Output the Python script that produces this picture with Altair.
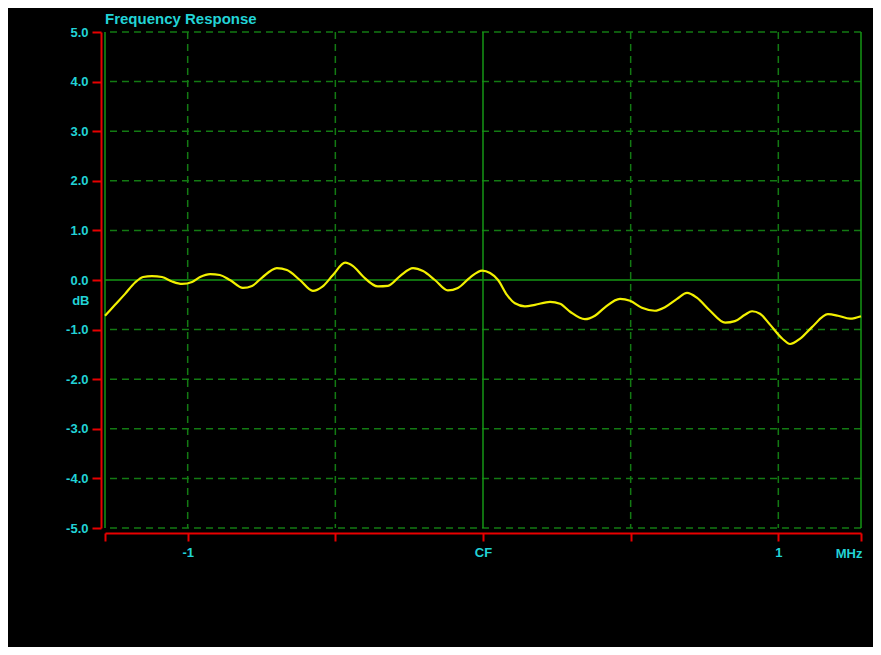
import altair as alt
import pandas as pd

# Frequency (MHz offset from CF) and response (dB)
freq_mhz = [-1.280, -1.246, -1.212, -1.178, -1.151, -1.121, -1.087, -1.053, -1.019, -0.985,
            -0.958, -0.924, -0.891, -0.857, -0.813, -0.782, -0.748, -0.698, -0.664, -0.620,
            -0.576, -0.545, -0.508, -0.467, -0.440, -0.406, -0.356, -0.322, -0.281, -0.237,
            -0.203, -0.163, -0.119, -0.085, -0.044, -0.003, 0.024, 0.051, 0.081, 0.108,
            0.142, 0.176, 0.227, 0.261, 0.295, 0.345, 0.379, 0.413, 0.464, 0.498,
            0.538, 0.582, 0.616, 0.657, 0.691, 0.725, 0.769, 0.820, 0.853, 0.887,
            0.911, 0.938, 0.972, 1.013, 1.040, 1.074, 1.114, 1.168, 1.202, 1.243, 1.280]
response_db = [-0.72, -0.50, -0.28, -0.05, 0.06, 0.08, 0.06, -0.03, -0.08, -0.04,
               0.06, 0.12, 0.10, 0.00, -0.16, -0.12, 0.05, 0.24, 0.20, 0.00,
               -0.22, -0.14, 0.10, 0.35, 0.28, 0.07, -0.13, -0.12, 0.08, 0.24,
               0.18, 0.00, -0.21, -0.16, 0.05, 0.19, 0.14, 0.00, -0.30, -0.47,
               -0.53, -0.50, -0.44, -0.48, -0.64, -0.79, -0.72, -0.55, -0.38, -0.42,
               -0.56, -0.62, -0.55, -0.38, -0.26, -0.36, -0.62, -0.86, -0.83, -0.70,
               -0.63, -0.68, -0.90, -1.18, -1.29, -1.18, -0.95, -0.69, -0.72, -0.78, -0.73]

x_domain = [-1.28, 1.28]
y_domain = [-5, 5]
y_ticks = [-5, -4, -3, -2, -1, 0, 1, 2, 3, 4, 5]
x_ticks = [-1.28, -1, -0.5, 0, 0.5, 1, 1.28]
y_dashed = [-5, -4, -3, -2, -1, 1, 2, 3, 4, 5]
x_dashed = [-1, -0.5, 0.5, 1]
x_solid = [-1.28, 0, 1.28]
y_solid = [0]

CYAN = "#22d3d6"
RED = "#e80000"
GREEN_DASH = "#137a13"
GREEN_SOLID = "#159615"
YELLOW = "#f2f000"
FONT = "Liberation Sans"

xs = alt.Scale(domain=x_domain, nice=False, zero=False)
ys = alt.Scale(domain=y_domain, nice=False, zero=False)

x_axis = alt.Axis(
    values=x_ticks, grid=False, offset=5, tickSize=8, tickColor=RED, tickWidth=2,
    domainColor=RED, domainWidth=2, labelColor=CYAN, labelFont=FONT, labelFontSize=13,
    labelFontWeight="bold", labelPadding=5, labelOverlap=False, labelFlush=False,
    labelExpr="datum.value == 0 ? 'CF' : (datum.value == -1 ? '-1' : (datum.value == 1 ? '1' : ''))",
    title="MHz", titleColor=CYAN, titleFont=FONT, titleFontSize=13, titleFontWeight="bold",
    titleX=757, titleY=20, titleAlign="right", titleBaseline="middle")
y_axis = alt.Axis(
    values=y_ticks, grid=False, offset=4, tickSize=9, tickColor=RED, tickWidth=2,
    domainColor=RED, domainWidth=2, labelColor=CYAN, labelFont=FONT, labelFontSize=13,
    labelFontWeight="bold", labelPadding=4, labelOverlap=False,
    labelExpr="(datum.value < 0 ? '-' : '') + format(abs(datum.value), '.1f')",
    title="dB", titleColor=CYAN, titleFont=FONT, titleFontSize=13, titleFontWeight="bold",
    titleAngle=0, titleX=-12, titleY=268, titleAlign="right", titleBaseline="middle")

curve = pd.DataFrame({"f": freq_mhz, "db": response_db})

line = alt.Chart(curve).mark_line(color=YELLOW, strokeWidth=2.2, interpolate="monotone").encode(
    x=alt.X("f:Q", scale=xs, axis=x_axis),
    y=alt.Y("db:Q", scale=ys, axis=y_axis),
)

hdash = alt.Chart(pd.DataFrame({"db": y_dashed})).mark_rule(
    color=GREEN_DASH, strokeWidth=1.5, strokeDash=[7, 5]).encode(
    y=alt.Y("db:Q", scale=ys, axis=y_axis))
vdash = alt.Chart(pd.DataFrame({"f": x_dashed})).mark_rule(
    color=GREEN_DASH, strokeWidth=1.5, strokeDash=[7, 5]).encode(
    x=alt.X("f:Q", scale=xs, axis=x_axis))
hsolid = alt.Chart(pd.DataFrame({"db": y_solid})).mark_rule(
    color=GREEN_SOLID, strokeWidth=1.5).encode(
    y=alt.Y("db:Q", scale=ys, axis=y_axis))
vsolid = alt.Chart(pd.DataFrame({"f": x_solid})).mark_rule(
    color=GREEN_SOLID, strokeWidth=1.5).encode(
    x=alt.X("f:Q", scale=xs, axis=x_axis))

chart = alt.layer(hdash, vdash, hsolid, vsolid, line).properties(
    width=756, height=496,
    autosize=alt.AutoSizeParams(type="none"),
    padding={"left": 97, "top": 24, "right": 12, "bottom": 119},
    background="black",
    title=alt.Title("Frequency Response", anchor="start", frame="group", orient="top",
                    color=CYAN, font=FONT, fontSize=15, fontWeight="bold",
                    baseline="bottom", offset=3, dx=0, dy=19),
).configure_view(stroke=None)

chart.save("out.html", embed_options={"renderer": "svg", "actions": False})
